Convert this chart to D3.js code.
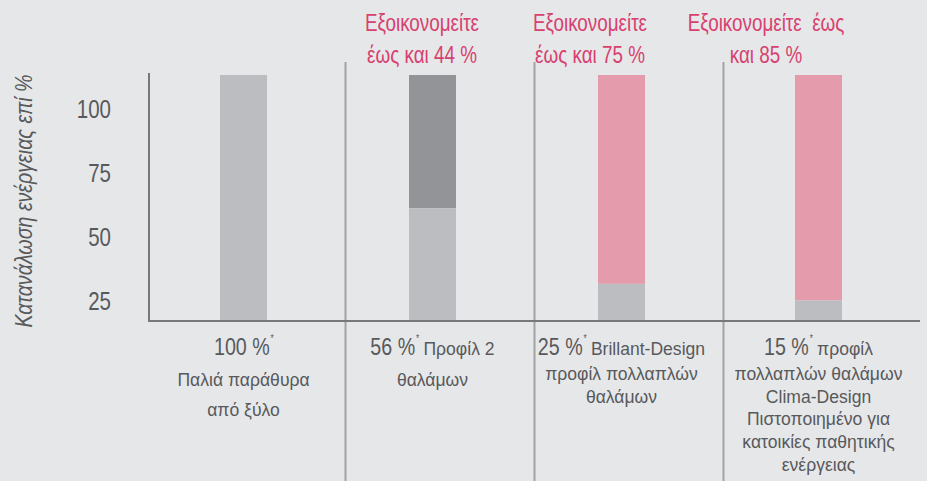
<!DOCTYPE html>
<meta charset="utf-8">
<script src="https://d3js.org/d3.v7.min.js"></script>
<style>
  body { margin: 0; background: #e6e7e9; }
  text { font-family: "Liberation Sans", Arial, sans-serif; }
</style>
<div id="chart"></div>
<script>
    // categories (one column per window type)
    const categories = ["old", "twoChamber", "brillant", "clima"];
    // consumption (light gray part), read against the y axis units
    const consumption = [113.5, 61.5, 32, 25.5];
    // top of every bar (saving part stacked on top of consumption)
    const barTop = [113.5, 113.5, 113.5, 113.5];
    const yTicks = [25, 50, 75, 100];
    const percentLabels = ["100 %", "56 %", "25 %", "15 %"];
    const subLabels = [
        ["Παλιά παράθυρα", "από ξύλο"],
        ["θαλάμων"],
        ["προφίλ πολλαπλών", "θαλάμων"],
        ["πολλαπλών θαλάμων", "Clima-Design", "Πιστοποιημένο για", "κατοικίες παθητικής", "ενέργειας"]
    ];
    const inlineLabels = ["", "Προφίλ 2", "Brillant-Design", "προφίλ"];
    const savingLabels = [
        null,
        ["Εξοικονομείτε", "έως και 44 %"],
        ["Εξοικονομείτε", "έως και 75 %"],
        ["Εξοικονομείτε  έως", "και 85 %"]
    ];
    const yTitle = "Κατανάλωση ενέργειας επί %";

    const width = 927, height = 481;
    const axisLeft = 149, baseY = 321, topY = 75;
    const narrow = 0.82;   // squeeze Liberation Sans to look like a narrow face
    const narrowSub = 0.95; // small captions are less squeezed

    const svg = d3.select("#chart")
        .append("svg")
        .attr("width", width)
        .attr("height", height);

    svg.append("rect").attr("width", width).attr("height", height).attr("fill", "#e6e7e9");

    // Y scale (axis starts above zero, as in the original graphic)
    const y = d3.scaleLinear()
        .domain([17.5, 113.5])
        .range([baseY, topY]);

    // X scale: one band per column
    const x = d3.scaleBand()
        .domain(categories)
        .range([157, 913]);

    const barW = 47;
    const barShift = [63, 63, 63, 71];
    const titleShift = [0, 76, 55, 42];
    const lineGap = [29.5, 30.5, 23, 22.7];
    const savingColor = ["#bcbdc0", "#939497", "#e49cad", "#e49cad"];

    const barX = (d, i) => x(d) + barShift[i];
    const barC = (d, i) => barX(d, i) + barW / 2;

    function narrowText(parent, cx, cy, size, sx) {
        return parent.append("text")
            .attr("transform", `translate(${cx},${cy}) scale(${sx || narrow},1)`)
            .attr("text-anchor", "middle")
            .attr("font-size", size);
    }

    // column dividers
    svg.append("g")
        .selectAll("line")
        .data(categories.slice(1))
        .join("line")
            .attr("x1", d => x(d) - 0.5)
            .attr("x2", d => x(d) - 0.5)
            .attr("y1", 62)
            .attr("y2", height)
            .attr("stroke", "#a2a3a5")
            .attr("stroke-width", 2);

    // saving (upper) part of bars
    svg.append("g")
        .selectAll("rect")
        .data(categories)
        .join("rect")
            .attr("x", barX)
            .attr("width", barW)
            .attr("y", (d, i) => y(barTop[i]))
            .attr("height", (d, i) => y(consumption[i]) - y(barTop[i]))
            .attr("fill", (d, i) => savingColor[i]);

    // consumption (lower) part of bars
    svg.append("g")
        .selectAll("rect")
        .data(categories)
        .join("rect")
            .attr("x", barX)
            .attr("width", barW)
            .attr("y", (d, i) => y(consumption[i]))
            .attr("height", (d, i) => y(y.domain()[0]) - y(consumption[i]) + 1)
            .attr("fill", "#bcbdc0");

    // axis lines
    svg.append("line")
        .attr("x1", axisLeft).attr("x2", axisLeft)
        .attr("y1", 73).attr("y2", baseY + 1)
        .attr("stroke", "#77787b").attr("stroke-width", 2);
    svg.append("line")
        .attr("x1", axisLeft - 1).attr("x2", 920)
        .attr("y1", baseY).attr("y2", baseY)
        .attr("stroke", "#77787b").attr("stroke-width", 2);

    // Y axis tick labels
    const yAxis = svg.append("g")
        .attr("transform", "translate(111,0)")
        .call(d3.axisLeft(y).tickValues(yTicks).tickSize(0).tickPadding(0));
    yAxis.select(".domain").remove();
    yAxis.selectAll("text")
        .attr("x", 0)
        .attr("transform", `scale(${narrow},1)`)
        .attr("font-size", 25)
        .attr("font-family", "Liberation Sans, sans-serif")
        .attr("fill", "#58595b");

    // Y axis title
    svg.append("text")
        .attr("transform", `translate(32,201) rotate(-90) scale(${narrow},1)`)
        .attr("text-anchor", "middle")
        .attr("font-size", 24)
        .attr("font-style", "italic")
        .attr("fill", "#58595b")
        .text(yTitle);

    // labels under each column
    const labels = svg.append("g").attr("fill", "#58595b");
    categories.forEach(function(d, i) {
        const cx = barC(d, i);
        // big percentage + asterisk, then an optional caption on the same line
        const p = labels.append("text")
            .attr("font-size", 24)
            .attr("text-anchor", "start");
        p.append("tspan").text(percentLabels[i]);
        p.append("tspan").attr("font-size", 10).attr("dy", -13).attr("dx", 1).text("*");
        const pw = p.node().getComputedTextLength() * narrow;
        let cw = 0, c = null;
        if (inlineLabels[i]) {
            c = labels.append("text")
                .attr("font-size", 18.5)
                .attr("text-anchor", "start")
                .text(inlineLabels[i]);
            cw = c.node().getComputedTextLength() * narrowSub;
        }
        const gap = c ? 5 : 0;
        const x0 = cx - (pw + gap + cw) / 2;
        p.attr("transform", `translate(${x0},355) scale(${narrow},1)`);
        if (c) c.attr("transform", `translate(${x0 + pw + gap},355) scale(${narrowSub},1)`);

        subLabels[i].forEach(function(s, k) {
            narrowText(labels, cx, 355 + (i < 2 ? 31 : 25) + k * lineGap[i], 18.5, narrowSub)
                .text(s);
        });
    });

    // pink "saving" titles
    const titles = svg.append("g").attr("fill", "#d8406f");
    categories.forEach(function(d, i) {
        if (!savingLabels[i]) return;
        savingLabels[i].forEach(function(s, k) {
            narrowText(titles, x(d) + titleShift[i], 31 + k * 31.5, 23)
                .style("white-space", "pre")
                .text(s);
        });
    });
</script>
